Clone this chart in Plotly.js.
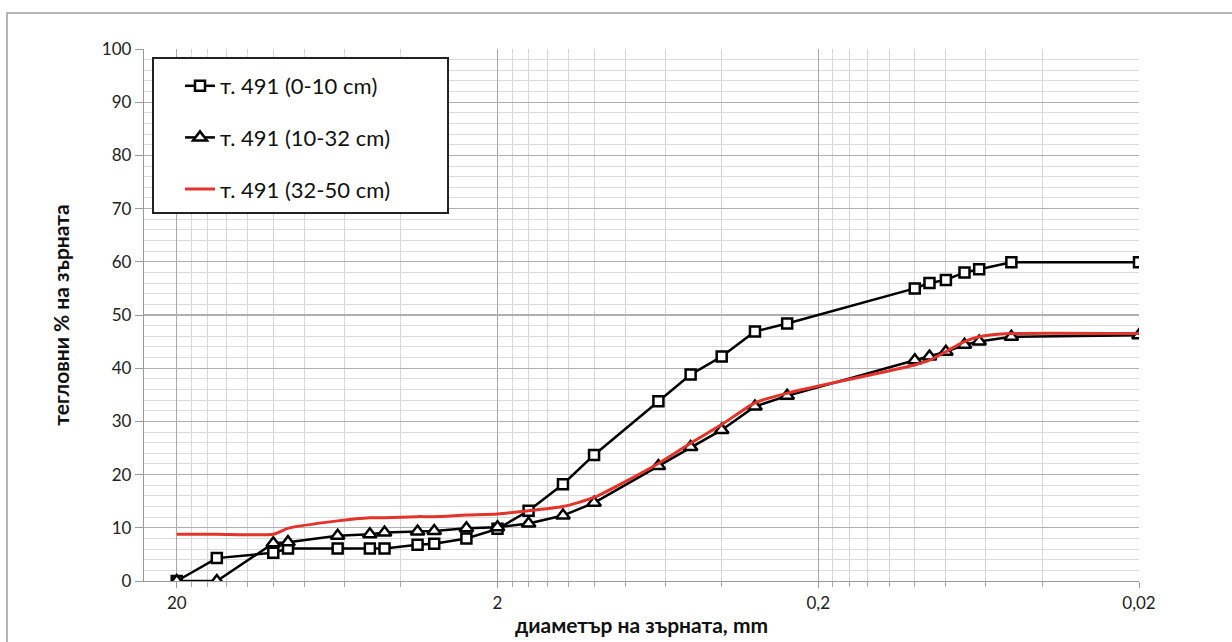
<!DOCTYPE html>
<html>
<head>
<meta charset="utf-8">
<script src="https://cdn.plot.ly/plotly-3.0.1.min.js"></script>
<style>
  html, body { margin: 0; padding: 0; background: #ffffff; }
  #chart { width: 1232px; height: 642px; }
</style>
</head>
<body>
<div id="chart"></div>
<script>
// Grain diameters, mm
const diameters = [20, 15, 10, 9, 6.3, 5, 4.5, 3.55, 3.15, 2.5, 2, 1.6, 1.25, 1, 0.63, 0.5, 0.4, 0.315, 0.25, 0.1, 0.09, 0.08, 0.07, 0.063, 0.05, 0.02];
// Weight percent, series
const s0_10  = [0, 4.3, 5.3, 6.1, 6.1, 6.1, 6.1, 6.8, 7.0, 8.0, 9.8, 13.2, 18.2, 23.7, 33.8, 38.8, 42.2, 46.9, 48.4, 55.0, 56.0, 56.6, 58.0, 58.6, 59.9, 59.9];
const s10_32 = [0, 0, 7.1, 7.3, 8.5, 8.8, 9.1, 9.3, 9.4, 9.9, 10.1, 10.8, 12.3, 14.7, 21.6, 25.2, 28.4, 32.8, 34.8, 41.5, 42.2, 43.1, 44.4, 45.0, 45.9, 46.2];
const s32_50 = [8.8, 8.8, 8.8, 9.9, 11.3, 11.9, 11.9, 12.1, 12.1, 12.4, 12.6, 13.2, 14.0, 15.7, 22.1, 25.9, 29.4, 33.5, 35.3, 40.6, 41.5, 43.1, 45.0, 45.9, 46.5, 46.5];
const names = ['т. 491 (0-10 cm)', 'т. 491 (10-32 cm)', 'т. 491 (32-50 cm)'];

const majorX = [20, 2, 0.2, 0.02];
const majorXText = ['20', '2', '0,2', '0,02'];
const minorX = [18, 16, 14, 12, 10, 8, 6, 4, 1.8, 1.6, 1.4, 1.2, 1.0, 0.8, 0.6, 0.4, 0.18, 0.16, 0.14, 0.12, 0.1, 0.08, 0.06, 0.04];

const FONT = 'Lato, "Open Sans", "Liberation Sans", sans-serif';

// plot-area pixel geometry
const W = 1232, H = 642;
const L = 144, R = 1139, T = 49, B = 581;
const pw = R - L, ph = B - T;
const px = v => (v - L) / pw;
const py = v => (B - v) / ph;

const traces = [
  {
    x: diameters, y: s0_10, name: names[0], type: 'scatter', mode: 'lines+markers',
    legendgroup: 'a',
    line: { color: '#000000', width: 2.5 },
    marker: { symbol: 'square', size: 10, color: '#ffffff', line: { color: '#000000', width: 2.5 } }
  },
  {
    x: diameters, y: s10_32, name: names[1], type: 'scatter', mode: 'lines+markers',
    legendgroup: 'b',
    line: { color: '#000000', width: 2.5 },
    marker: { symbol: 'triangle-up', size: 12, color: '#ffffff', line: { color: '#000000', width: 2.5 } }
  },
  {
    x: diameters, y: s32_50, name: names[2], type: 'scatter', mode: 'lines',
    legendgroup: 'c',
    line: { color: '#e2342a', width: 3, shape: 'spline', smoothing: 0.6 }
  }
];

const layout = {
  width: W, height: H,
  margin: { l: L, r: W - R, t: T, b: H - B, pad: 0 },
  paper_bgcolor: '#ffffff',
  plot_bgcolor: '#ffffff',
  font: { family: FONT, size: 17, color: '#222222' },
  showlegend: true,
  legend: {
    x: px(180), y: py(65), xanchor: 'left', yanchor: 'top',
    bgcolor: 'rgba(0,0,0,0)', borderwidth: 0,
    font: { family: FONT, size: 22, color: '#111111' },
    traceorder: 'grouped', tracegroupgap: 20,
    itemwidth: 30
  },
  xaxis: {
    type: 'log',
    range: [Math.log10(25.3), Math.log10(0.02)],
    tickmode: 'array', tickvals: majorX, ticktext: majorXText,
    ticks: 'outside', ticklen: 6, tickcolor: '#9a9a9a', tickwidth: 1,
    showgrid: true, gridcolor: '#a8a8a8', gridwidth: 1.2,
    minor: { tickmode: 'array', tickvals: minorX, showgrid: true, gridcolor: '#d6d6d6', gridwidth: 1, ticks: 'outside', ticklen: 5, tickcolor: '#aaaaaa' },
    showline: true, linecolor: '#9a9a9a', linewidth: 1.2,
    zeroline: false,
    tickfont: { family: FONT, size: 17, color: '#222222' },
    title: { text: '<b>диаметър на зърната, mm</b>', font: { family: FONT, size: 21, color: '#111111' }, standoff: 6 },
    automargin: false
  },
  yaxis: {
    range: [0, 100],
    tickmode: 'linear', tick0: 0, dtick: 10,
    ticks: 'outside', ticklen: 8, tickcolor: '#9a9a9a',
    showgrid: true, gridcolor: '#b0b0b0', gridwidth: 1.2,
    minor: { tickmode: 'linear', dtick: 2, showgrid: true, gridcolor: '#dadada', gridwidth: 1 },
    showline: true, linecolor: '#9a9a9a', linewidth: 1.2,
    zeroline: false,
    tickfont: { family: FONT, size: 17, color: '#222222' },
    title: { text: '<b>тегловни % на зърната</b>', font: { family: FONT, size: 21, color: '#111111' }, standoff: 26 },
    automargin: false
  },
  shapes: [
    {
      type: 'rect', xref: 'paper', yref: 'paper',
      x0: px(7), x1: px(1245), y0: py(655), y1: py(13),
      line: { color: '#a0a0a0', width: 1.5 }, fillcolor: 'rgba(0,0,0,0)', layer: 'below'
    },
    {
      // legend box
      type: 'rect', xref: 'paper', yref: 'paper',
      x0: px(153), x1: px(448), y0: py(213), y1: py(58),
      line: { color: '#222222', width: 2 }, fillcolor: '#ffffff', layer: 'above'
    }
  ]
};

Plotly.newPlot('chart', traces, layout, { displayModeBar: false, staticPlot: true });
</script>
</body>
</html>
